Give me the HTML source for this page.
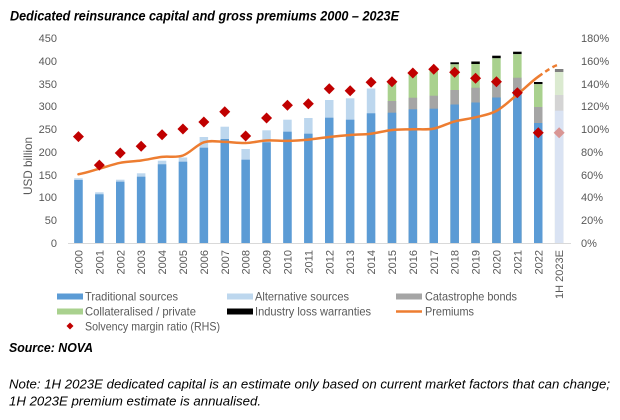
<!DOCTYPE html>
<html>
<head>
<meta charset="utf-8">
<style>
html,body{margin:0;padding:0;background:#fff;}
svg{display:block;}
text{font-family:"Liberation Sans",sans-serif;}
</style>
</head>
<body>
<svg width="620" height="420" viewBox="0 0 620 420" xmlns="http://www.w3.org/2000/svg">
<rect width="620" height="420" fill="#fff"/>
<!-- Title -->
<text x="10" y="20.7" font-size="13.5" font-weight="bold" font-style="italic" fill="#000" textLength="389" lengthAdjust="spacingAndGlyphs">Dedicated reinsurance capital and gross premiums 2000 – 2023E</text>

<!-- Left axis labels -->
<g font-size="11" fill="#595959" text-anchor="end">
<text x="57" y="42">450</text>
<text x="57" y="65">400</text>
<text x="57" y="88">350</text>
<text x="57" y="110">300</text>
<text x="57" y="133">250</text>
<text x="57" y="156">200</text>
<text x="57" y="179">150</text>
<text x="57" y="201">100</text>
<text x="57" y="224">50</text>
<text x="57" y="247">0</text>
</g>
<!-- Right axis labels -->
<g font-size="11" fill="#595959" text-anchor="start">
<text x="581" y="42">180%</text>
<text x="581" y="65">160%</text>
<text x="581" y="88">140%</text>
<text x="581" y="110">120%</text>
<text x="581" y="133">100%</text>
<text x="581" y="156">80%</text>
<text x="581" y="179">60%</text>
<text x="581" y="201">40%</text>
<text x="581" y="224">20%</text>
<text x="581" y="247">0%</text>
</g>
<!-- Y title -->
<text x="0" y="0" font-size="12" fill="#595959" text-anchor="middle" transform="translate(32,166) rotate(-90)" textLength="58" lengthAdjust="spacingAndGlyphs">USD billion</text>

<!-- Bars -->
<g>
<!-- 2000-2014: traditional + alternative -->
<rect x="74.2" y="178.3" width="8.5" height="64.7" fill="#bdd7ee"/><rect x="74.2" y="180" width="8.5" height="63" fill="#5b9bd5"/>
<rect x="95.1" y="192.3" width="8.5" height="50.7" fill="#bdd7ee"/><rect x="95.1" y="194.3" width="8.5" height="48.7" fill="#5b9bd5"/>
<rect x="116" y="179.7" width="8.5" height="63.3" fill="#bdd7ee"/><rect x="116" y="181.7" width="8.5" height="61.3" fill="#5b9bd5"/>
<rect x="136.9" y="173.3" width="8.5" height="69.7" fill="#bdd7ee"/><rect x="136.9" y="176.7" width="8.5" height="66.3" fill="#5b9bd5"/>
<rect x="157.8" y="160.7" width="8.5" height="82.3" fill="#bdd7ee"/><rect x="157.8" y="164.3" width="8.5" height="78.7" fill="#5b9bd5"/>
<rect x="178.7" y="157.5" width="8.5" height="85.5" fill="#bdd7ee"/><rect x="178.7" y="161.7" width="8.5" height="81.3" fill="#5b9bd5"/>
<rect x="199.6" y="137" width="8.5" height="106" fill="#bdd7ee"/><rect x="199.6" y="147.7" width="8.5" height="95.3" fill="#5b9bd5"/>
<rect x="220.5" y="126.7" width="8.5" height="116.3" fill="#bdd7ee"/><rect x="220.5" y="139" width="8.5" height="104" fill="#5b9bd5"/>
<rect x="241.4" y="149" width="8.5" height="94" fill="#bdd7ee"/><rect x="241.4" y="159.7" width="8.5" height="83.3" fill="#5b9bd5"/>
<rect x="262.3" y="130.3" width="8.5" height="112.7" fill="#bdd7ee"/><rect x="262.3" y="142.3" width="8.5" height="100.7" fill="#5b9bd5"/>
<rect x="283.2" y="119.7" width="8.5" height="123.3" fill="#bdd7ee"/><rect x="283.2" y="131.7" width="8.5" height="111.3" fill="#5b9bd5"/>
<rect x="304.1" y="118" width="8.5" height="125" fill="#bdd7ee"/><rect x="304.1" y="133.7" width="8.5" height="109.3" fill="#5b9bd5"/>
<rect x="325" y="100" width="8.5" height="143" fill="#bdd7ee"/><rect x="325" y="117.7" width="8.5" height="125.3" fill="#5b9bd5"/>
<rect x="345.9" y="98.3" width="8.5" height="144.7" fill="#bdd7ee"/><rect x="345.9" y="119.7" width="8.5" height="123.3" fill="#5b9bd5"/>
<rect x="366.8" y="88.5" width="8.5" height="154.5" fill="#bdd7ee"/><rect x="366.8" y="113.3" width="8.5" height="129.7" fill="#5b9bd5"/>
<!-- 2015-2022 -->
<rect x="387.7" y="82" width="8.5" height="161" fill="#a9d18e"/><rect x="387.7" y="101" width="8.5" height="142" fill="#a5a5a5"/><rect x="387.7" y="112.7" width="8.5" height="130.3" fill="#5b9bd5"/>
<rect x="408.6" y="72.5" width="8.5" height="170.5" fill="#a9d18e"/><rect x="408.6" y="97.7" width="8.5" height="145.3" fill="#a5a5a5"/><rect x="408.6" y="109.3" width="8.5" height="133.7" fill="#5b9bd5"/>
<rect x="429.5" y="69.5" width="8.5" height="173.5" fill="#a9d18e"/><rect x="429.5" y="95.7" width="8.5" height="147.3" fill="#a5a5a5"/><rect x="429.5" y="108.7" width="8.5" height="134.3" fill="#5b9bd5"/>
<rect x="450.4" y="62.3" width="8.5" height="2" fill="#000"/><rect x="450.4" y="64.3" width="8.5" height="178.7" fill="#a9d18e"/><rect x="450.4" y="90" width="8.5" height="153" fill="#a5a5a5"/><rect x="450.4" y="104.5" width="8.5" height="138.5" fill="#5b9bd5"/>
<rect x="471.3" y="61.5" width="8.5" height="2.5" fill="#000"/><rect x="471.3" y="64" width="8.5" height="179" fill="#a9d18e"/><rect x="471.3" y="87.7" width="8.5" height="155.3" fill="#a5a5a5"/><rect x="471.3" y="102.5" width="8.5" height="140.5" fill="#5b9bd5"/>
<rect x="492.2" y="55.7" width="8.5" height="2.6" fill="#000"/><rect x="492.2" y="58.3" width="8.5" height="184.7" fill="#a9d18e"/><rect x="492.2" y="83.3" width="8.5" height="159.7" fill="#a5a5a5"/><rect x="492.2" y="97.5" width="8.5" height="145.5" fill="#5b9bd5"/>
<rect x="513.1" y="51.7" width="8.5" height="2.5" fill="#000"/><rect x="513.1" y="54.2" width="8.5" height="188.8" fill="#a9d18e"/><rect x="513.1" y="77.7" width="8.5" height="165.3" fill="#a5a5a5"/><rect x="513.1" y="90" width="8.5" height="153" fill="#5b9bd5"/>
<rect x="534" y="82" width="8.5" height="2.2" fill="#000"/><rect x="534" y="84.2" width="8.5" height="158.8" fill="#a9d18e"/><rect x="534" y="107" width="8.5" height="136" fill="#a5a5a5"/><rect x="534" y="123" width="8.5" height="120" fill="#5b9bd5"/>
<!-- 2023E -->
<rect x="554.9" y="69" width="8.5" height="3" fill="#7f7f7f"/><rect x="554.9" y="72" width="8.5" height="171" fill="#dbead0"/><rect x="554.9" y="95" width="8.5" height="148" fill="#d4d4d4"/><rect x="554.9" y="110.7" width="8.5" height="132.3" fill="#dae3f3"/>
</g>

<!-- Axis line -->
<line x1="68" y1="243.5" x2="571" y2="243.5" stroke="#d9d9d9" stroke-width="1"/>

<!-- Premiums line -->
<path d="M78.45,174.2 C85.42,173.28 92.38,170.6 99.35,168.7 C106.32,166.8 113.28,164.17 120.25,162.8 C127.22,161.43 134.18,161.48 141.15,160.5 C148.12,159.52 155.08,157.73 162.05,156.9 C169.02,156.07 175.98,157.93 182.95,155.5 C189.92,153.07 196.88,144.57 203.85,142.3 C210.82,140.03 217.78,141.78 224.75,141.9 C231.72,142.02 238.68,143.23 245.65,143.0 C252.62,142.77 259.58,140.85 266.55,140.5 C273.52,140.15 280.48,141.05 287.45,140.9 C294.42,140.75 301.38,140.25 308.35,139.6 C315.32,138.95 322.28,137.77 329.25,137.0 C336.22,136.23 343.18,135.55 350.15,135.0 C357.12,134.45 364.08,134.53 371.05,133.7 C378.02,132.87 384.98,130.73 391.95,130.0 C398.92,129.27 405.88,129.53 412.85,129.3 C419.82,129.07 426.78,129.92 433.75,128.6 C440.72,127.28 447.68,123.28 454.65,121.4 C461.62,119.52 468.58,119.05 475.55,117.3 C482.52,115.55 489.48,114.7 496.45,110.9 C503.42,107.1 510.38,100.2 517.35,94.5 C524.32,88.8 531.28,81.72 538.25,76.7" fill="none" stroke="#ed7d31" stroke-width="2.5" stroke-linejoin="round" stroke-linecap="round"/>
<path d="M538.25,76.7 C545.22,71.68 552.18,66.45 559.15,64.4" fill="none" stroke="#ed7d31" stroke-width="2.5" stroke-dasharray="5,3.5"/>

<!-- Solvency diamonds -->
<g fill="#c00000">
<path d="M78.45,131.1 l5.5,5.5 l-5.5,5.5 l-5.5,-5.5z"/>
<path d="M99.35,159.6 l5.5,5.5 l-5.5,5.5 l-5.5,-5.5z"/>
<path d="M120.25,147.5 l5.5,5.5 l-5.5,5.5 l-5.5,-5.5z"/>
<path d="M141.15,140.8 l5.5,5.5 l-5.5,5.5 l-5.5,-5.5z"/>
<path d="M162.05,129.2 l5.5,5.5 l-5.5,5.5 l-5.5,-5.5z"/>
<path d="M182.95,123.5 l5.5,5.5 l-5.5,5.5 l-5.5,-5.5z"/>
<path d="M203.85,116.5 l5.5,5.5 l-5.5,5.5 l-5.5,-5.5z"/>
<path d="M224.75,106.2 l5.5,5.5 l-5.5,5.5 l-5.5,-5.5z"/>
<path d="M245.65,130.5 l5.5,5.5 l-5.5,5.5 l-5.5,-5.5z"/>
<path d="M266.55,112.5 l5.5,5.5 l-5.5,5.5 l-5.5,-5.5z"/>
<path d="M287.45,99.8 l5.5,5.5 l-5.5,5.5 l-5.5,-5.5z"/>
<path d="M308.35,98.2 l5.5,5.5 l-5.5,5.5 l-5.5,-5.5z"/>
<path d="M329.25,83.2 l5.5,5.5 l-5.5,5.5 l-5.5,-5.5z"/>
<path d="M350.15,85.2 l5.5,5.5 l-5.5,5.5 l-5.5,-5.5z"/>
<path d="M371.05,76.8 l5.5,5.5 l-5.5,5.5 l-5.5,-5.5z"/>
<path d="M391.95,76.2 l5.5,5.5 l-5.5,5.5 l-5.5,-5.5z"/>
<path d="M412.85,67.5 l5.5,5.5 l-5.5,5.5 l-5.5,-5.5z"/>
<path d="M433.75,63.8 l5.5,5.5 l-5.5,5.5 l-5.5,-5.5z"/>
<path d="M454.65,66.8 l5.5,5.5 l-5.5,5.5 l-5.5,-5.5z"/>
<path d="M475.55,72.8 l5.5,5.5 l-5.5,5.5 l-5.5,-5.5z"/>
<path d="M496.45,76.2 l5.5,5.5 l-5.5,5.5 l-5.5,-5.5z"/>
<path d="M517.35,87.2 l5.5,5.5 l-5.5,5.5 l-5.5,-5.5z"/>
<path d="M538.25,127.2 l5.5,5.5 l-5.5,5.5 l-5.5,-5.5z"/>
</g>
<path d="M559.15,127.2 l5.5,5.5 l-5.5,5.5 l-5.5,-5.5z" fill="#d99694"/>

<!-- Year labels -->
<g font-size="11" fill="#595959" text-anchor="end">
<text transform="translate(82.45,250) rotate(-90)">2000</text>
<text transform="translate(103.35,250) rotate(-90)">2001</text>
<text transform="translate(124.25,250) rotate(-90)">2002</text>
<text transform="translate(145.15,250) rotate(-90)">2003</text>
<text transform="translate(166.05,250) rotate(-90)">2004</text>
<text transform="translate(186.95,250) rotate(-90)">2005</text>
<text transform="translate(207.85,250) rotate(-90)">2006</text>
<text transform="translate(228.75,250) rotate(-90)">2007</text>
<text transform="translate(249.65,250) rotate(-90)">2008</text>
<text transform="translate(270.55,250) rotate(-90)">2009</text>
<text transform="translate(291.45,250) rotate(-90)">2010</text>
<text transform="translate(312.35,250) rotate(-90)">2011</text>
<text transform="translate(333.25,250) rotate(-90)">2012</text>
<text transform="translate(354.15,250) rotate(-90)">2013</text>
<text transform="translate(375.05,250) rotate(-90)">2014</text>
<text transform="translate(395.95,250) rotate(-90)">2015</text>
<text transform="translate(416.85,250) rotate(-90)">2016</text>
<text transform="translate(437.75,250) rotate(-90)">2017</text>
<text transform="translate(458.65,250) rotate(-90)">2018</text>
<text transform="translate(479.55,250) rotate(-90)">2019</text>
<text transform="translate(500.45,250) rotate(-90)">2020</text>
<text transform="translate(521.35,250) rotate(-90)">2021</text>
<text transform="translate(542.25,250) rotate(-90)">2022</text>
<text transform="translate(563.15,250) rotate(-90)">1H 2023E</text>
</g>

<!-- Legend -->
<rect x="57" y="293.5" width="26" height="6" fill="#5b9bd5"/>
<rect x="227" y="293.5" width="26" height="6" fill="#bdd7ee"/>
<rect x="396" y="293.5" width="26" height="6" fill="#a5a5a5"/>
<rect x="57" y="308.5" width="26" height="6" fill="#a9d18e"/>
<rect x="227" y="308.5" width="26" height="6" fill="#000"/>
<line x1="396" y1="311.5" x2="422" y2="311.5" stroke="#ed7d31" stroke-width="2.5"/>
<path d="M70,322.5 l3.5,3.5 l-3.5,3.5 l-3.5,-3.5z" fill="#c00000"/>
<g font-size="12" fill="#595959">
<text x="85" y="300.5" textLength="93" lengthAdjust="spacingAndGlyphs">Traditional sources</text>
<text x="255" y="300.5" textLength="94" lengthAdjust="spacingAndGlyphs">Alternative sources</text>
<text x="425" y="300.5" textLength="92" lengthAdjust="spacingAndGlyphs">Catastrophe bonds</text>
<text x="85" y="315.5" textLength="111" lengthAdjust="spacingAndGlyphs">Collateralised / private</text>
<text x="255" y="315.5" textLength="116" lengthAdjust="spacingAndGlyphs">Industry loss warranties</text>
<text x="425" y="315.5" textLength="49" lengthAdjust="spacingAndGlyphs">Premiums</text>
<text x="85" y="330.5" textLength="135" lengthAdjust="spacingAndGlyphs">Solvency margin ratio (RHS)</text>
</g>

<!-- Source and note -->
<text x="9" y="352" font-size="13" font-weight="bold" font-style="italic" fill="#000" textLength="84" lengthAdjust="spacingAndGlyphs">Source: NOVA</text>
<text x="9" y="388.3" font-size="13" font-style="italic" fill="#000" textLength="601" lengthAdjust="spacingAndGlyphs">Note: 1H 2023E dedicated capital is an estimate only based on current market factors that can change;</text>
<text x="9" y="405.7" font-size="13" font-style="italic" fill="#000" textLength="252" lengthAdjust="spacingAndGlyphs">1H 2023E premium estimate is annualised.</text>
</svg>
</body>
</html>
